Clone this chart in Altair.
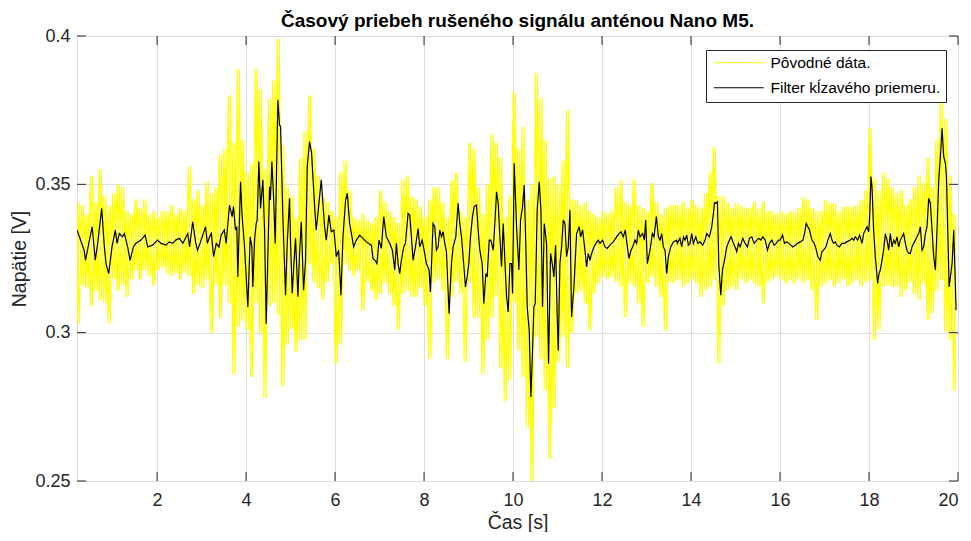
import altair as alt
import pandas as pd

TITLE = "Časový priebeh rušeného signálu anténou Nano M5."
SERIES = ["Pôvodné dáta.", "Filter kĺzavého priemeru."]
COLORS = ["#ffff00", "#000000"]
X_TICKS = [2, 4, 6, 8, 10, 12, 14, 16, 18, 20]
Y_TICKS = [0.25, 0.3, 0.35, 0.4]

# raw signal: per 0.1 s bin, the upper and lower extreme
RAW_T0 = 0.2
RAW_DT = 0.1
hi_a = [0.344, 0.343, 0.340, 0.353, 0.344, 0.355, 0.346, 0.343, 0.347, 0.350, 0.349, 0.341, 0.340, 0.345, 0.342, 0.345, 0.340,
        0.341, 0.339, 0.341, 0.341, 0.343, 0.340, 0.342, 0.341, 0.356, 0.345, 0.348, 0.343, 0.351, 0.347, 0.349, 0.360, 0.362]
lo_a = [0.303, 0.316, 0.315, 0.309, 0.314, 0.311, 0.310, 0.303, 0.318, 0.314, 0.316, 0.312, 0.318, 0.321, 0.318, 0.321, 0.319,
        0.316, 0.321, 0.322, 0.320, 0.319, 0.320, 0.318, 0.320, 0.319, 0.313, 0.316, 0.315, 0.318, 0.300, 0.316, 0.305, 0.316]
hi_b = [0.380, 0.364, 0.389, 0.365, 0.354, 0.357, 0.389, 0.382, 0.355, 0.379, 0.385, 0.399, 0.363, 0.349, 0.346, 0.339, 0.359,
        0.368, 0.380, 0.362, 0.353, 0.346, 0.344, 0.341, 0.339, 0.354, 0.358, 0.348, 0.339, 0.338, 0.340, 0.338, 0.337, 0.339]
lo_b = [0.310, 0.286, 0.302, 0.304, 0.301, 0.285, 0.310, 0.300, 0.278, 0.309, 0.310, 0.306, 0.282, 0.296, 0.301, 0.2935, 0.2975,
        0.2975, 0.323, 0.317, 0.315, 0.311, 0.317, 0.323, 0.2895, 0.296, 0.323, 0.321, 0.319, 0.321, 0.3075, 0.317, 0.314, 0.311]
hi_c = [0.348, 0.344, 0.341, 0.339, 0.337, 0.3515, 0.353, 0.346, 0.345, 0.3425, 0.339, 0.345, 0.349, 0.349, 0.344, 0.339, 0.3515,
        0.354, 0.341, 0.339, 0.364, 0.362, 0.349, 0.340, 0.350, 0.367, 0.364, 0.359, 0.339, 0.346, 0.381, 0.362, 0.3695]
lo_c = [0.313, 0.3166, 0.313, 0.309, 0.301, 0.313, 0.314, 0.312, 0.312, 0.315, 0.309, 0.291, 0.317, 0.318, 0.314, 0.291, 0.312,
        0.317, 0.313, 0.290, 0.317, 0.305, 0.305, 0.286, 0.2975, 0.305, 0.312, 0.288, 0.277, 0.284, 0.310, 0.294, 0.285]
hi_d = [0.345, 0.350, 0.3875, 0.379, 0.365, 0.352, 0.3526, 0.350, 0.358, 0.375, 0.345, 0.3447, 0.343, 0.344, 0.341, 0.340, 0.339,
        0.341, 0.340, 0.341, 0.349, 0.3515, 0.344, 0.343, 0.3515, 0.343, 0.342, 0.341, 0.3505, 0.344, 0.340, 0.342, 0.343, 0.343]
lo_d = [0.268, 0.250, 0.2985, 0.291, 0.2805, 0.2575, 0.2745, 0.290, 0.2985, 0.288, 0.300, 0.313, 0.314, 0.3098, 0.3007, 0.313,
        0.3166, 0.3188, 0.318, 0.3188, 0.317, 0.3154, 0.3053, 0.3166, 0.3155, 0.3098, 0.302, 0.3166, 0.3188, 0.3154, 0.312, 0.3007,
        0.317, 0.3166]
hi_e = [0.343, 0.344, 0.342, 0.3447, 0.343, 0.342, 0.347, 0.354, 0.3625, 0.346, 0.346, 0.344, 0.342, 0.3436, 0.343, 0.342, 0.342,
        0.344, 0.342, 0.344, 0.341, 0.341, 0.340, 0.341, 0.340, 0.341, 0.3405, 0.342, 0.3458, 0.3447, 0.342, 0.341, 0.341, 0.3447]
lo_e = [0.3177, 0.3155, 0.3166, 0.318, 0.3166, 0.312, 0.3143, 0.3155, 0.3177, 0.2895, 0.309, 0.3143, 0.3155, 0.3143, 0.318, 0.3166,
        0.3177, 0.3166, 0.3155, 0.3098, 0.317, 0.318, 0.3188, 0.3177, 0.3166, 0.3177, 0.3166, 0.318, 0.3166, 0.3177, 0.3143, 0.3042,
        0.3155, 0.3166]
hi_f = [0.3436, 0.3436, 0.341, 0.3425, 0.3425, 0.3425, 0.343, 0.3447, 0.348, 0.369, 0.352, 0.348, 0.354, 0.352, 0.349, 0.347,
        0.348, 0.343, 0.345, 0.349, 0.353, 0.3505, 0.359, 0.349, 0.365, 0.380, 0.372, 0.353, 0.340]
lo_f = [0.3177, 0.3155, 0.3166, 0.318, 0.3155, 0.3166, 0.3177, 0.3155, 0.317, 0.3177, 0.2975, 0.301, 0.3155, 0.316, 0.3154, 0.3155,
        0.312, 0.3143, 0.317, 0.313, 0.311, 0.3166, 0.3042, 0.3065, 0.314, 0.3177, 0.3003, 0.2975, 0.2805]

# moving-average filter line
filt_t = [0.20, 0.36, 0.39, 0.54, 0.61, 0.665, 0.755, 0.815, 0.852, 0.912, 0.987, 1.062, 1.10, 1.152, 1.22, 1.264, 1.339, 1.392,
          1.467, 1.52, 1.64, 1.73, 1.79, 1.90, 2.01, 2.09, 2.20, 2.27, 2.35, 2.42, 2.50, 2.58, 2.69, 2.73, 2.80, 2.87, 2.91, 2.99,
          3.09, 3.13, 3.18, 3.22, 3.27, 3.33, 3.39, 3.44, 3.51,
          3.552, 3.627, 3.687, 3.717, 3.762, 3.792, 3.815, 3.875, 3.912, 3.965, 4.04, 4.092, 4.13, 4.152, 4.19, 4.227, 4.25,
          4.287, 4.325, 4.377, 4.415, 4.452, 4.527, 4.545, 4.58, 4.617, 4.655, 4.715, 4.752, 4.775, 4.827, 4.887, 4.925, 4.977,
          5.0, 5.037, 5.075, 5.112, 5.165, 5.202, 5.24, 5.292, 5.337, 5.375, 5.427, 5.472, 5.502, 5.555, 5.577, 5.615, 5.637,
          5.69, 5.727, 5.765, 5.802, 5.862, 5.915, 5.975, 6.027, 6.08, 6.132, 6.177, 6.237, 6.275, 6.327, 6.38, 6.417, 6.477,
          6.552, 6.627, 6.702, 6.815, 6.853, 6.897, 6.942, 6.987,
          7.04, 7.093, 7.153, 7.228, 7.288, 7.341, 7.378, 7.416, 7.453, 7.49, 7.543, 7.581, 7.641, 7.678, 7.716, 7.753, 7.806,
          7.866, 7.903, 7.956, 8.001, 8.053, 8.113, 8.143, 8.203, 8.241, 8.278, 8.316, 8.353, 8.391, 8.428, 8.466, 8.503, 8.563,
          8.616, 8.653, 8.713, 8.766, 8.803, 8.841, 8.878, 8.931, 8.968, 9.006, 9.043, 9.088, 9.126, 9.178, 9.216, 9.253, 9.306,
          9.343, 9.389, 9.419, 9.464, 9.501, 9.554, 9.591, 9.629, 9.666, 9.704, 9.741, 9.779, 9.816, 9.854, 9.891, 9.929, 9.966,
          9.989, 10.026, 10.079, 10.131, 10.169, 10.214, 10.251,
          10.288, 10.318, 10.363, 10.401, 10.438, 10.468, 10.498, 10.543, 10.588, 10.626, 10.663, 10.701, 10.753, 10.798, 10.843,
          10.881, 10.918, 10.956, 10.993, 11.016, 11.053, 11.091, 11.128, 11.166, 11.203, 11.241, 11.278, 11.316, 11.368, 11.428,
          11.488, 11.518, 11.563, 11.616, 11.653, 11.691, 11.728, 11.766, 11.818, 11.863, 11.916, 11.953, 12.013, 12.066, 12.118,
          12.178, 12.253, 12.328, 12.381, 12.426, 12.478, 12.523, 12.568, 12.606, 12.651, 12.688, 12.741, 12.778, 12.816, 12.853,
          12.913, 12.951, 12.981, 13.018, 13.048, 13.078, 13.131, 13.168, 13.221, 13.266, 13.303, 13.341, 13.378, 13.416, 13.453,
          13.491, 13.543, 13.603, 13.678,
          13.693, 13.75, 13.79, 13.83, 13.866, 13.903, 13.94, 13.978, 14.016, 14.053, 14.106, 14.151, 14.203, 14.263, 14.316,
          14.353, 14.413, 14.466, 14.503, 14.526, 14.556, 14.593, 14.623, 14.668, 14.706, 14.751, 14.803, 14.863, 14.901, 14.953,
          14.991, 15.028, 15.066, 15.103, 15.163, 15.216, 15.268, 15.313, 15.366, 15.418, 15.478, 15.523, 15.568, 15.613, 15.666,
          15.718, 15.763, 15.816, 15.868, 15.913, 15.966, 16.003, 16.056, 16.101, 16.153, 16.198, 16.243, 16.288, 16.341, 16.394,
          16.454, 16.514, 16.551, 16.589, 16.626, 16.663, 16.716, 16.769, 16.806, 16.851, 16.904, 16.941, 16.979, 17.031, 17.076,
          17.129, 17.167, 17.204, 17.242, 17.279, 17.332, 17.392, 17.446, 17.504, 17.579, 17.617, 17.654, 17.692, 17.744, 17.789,
          17.842, 17.879, 17.917, 17.954, 17.992, 18.014, 18.044, 18.067, 18.104, 18.142, 18.194, 18.224, 18.254, 18.292, 18.329,
          18.367, 18.404, 18.442, 18.479, 18.517, 18.554, 18.592, 18.629, 18.667, 18.704, 18.742, 18.779, 18.817, 18.854, 18.892,
          18.929, 18.967, 19.004, 19.042, 19.079, 19.117, 19.154, 19.192, 19.229, 19.267, 19.304, 19.342, 19.379, 19.417, 19.454,
          19.492, 19.529, 19.567, 19.604, 19.642, 19.679, 19.717, 19.74, 19.77, 19.80, 19.83, 19.867, 19.904, 19.927, 19.957]
filt_v = [0.3346, 0.3278, 0.3244, 0.3357, 0.3244, 0.3301, 0.3419, 0.3289, 0.3233, 0.3199, 0.3289, 0.3346, 0.3301, 0.3334, 0.3323,
          0.3334, 0.3289, 0.3244, 0.3289, 0.3301, 0.3312, 0.3329, 0.3289, 0.3295, 0.3312, 0.3301, 0.3295, 0.3306, 0.3301, 0.3312,
          0.3318, 0.3301, 0.3334, 0.3289, 0.3374, 0.3301, 0.3278, 0.3312, 0.3357, 0.3301, 0.3323, 0.3334, 0.3256, 0.3301, 0.3289,
          0.3329, 0.3346,
          0.3301, 0.3430, 0.3391, 0.3425, 0.3346, 0.3357, 0.3188, 0.3509, 0.3391, 0.3289, 0.3087, 0.3323, 0.3289, 0.3154, 0.3312,
          0.3368, 0.3380, 0.3577, 0.3419, 0.3515, 0.3346, 0.3030, 0.3492, 0.3447, 0.3577, 0.3458, 0.3301, 0.3785, 0.3700, 0.3695,
          0.3391, 0.3126, 0.3301, 0.3453, 0.3301, 0.3132, 0.3233, 0.3318, 0.3121, 0.3267, 0.3374, 0.3143, 0.3244, 0.3560, 0.3644,
          0.3605, 0.3526, 0.3391, 0.3346, 0.3402, 0.3436, 0.3515, 0.3436, 0.3357, 0.3312, 0.3396, 0.3340, 0.3346, 0.3256, 0.3278,
          0.3126, 0.3323, 0.3447, 0.3470, 0.3368, 0.3323, 0.3289, 0.3312, 0.3329, 0.3318, 0.3306, 0.3295, 0.3250, 0.3244, 0.3233,
          0.3312,
          0.3284, 0.3391, 0.3323, 0.3301, 0.3278, 0.3211, 0.3301, 0.3233, 0.3199, 0.3244, 0.3289, 0.3301, 0.3402, 0.3396, 0.3323,
          0.3244, 0.3289, 0.3351, 0.3289, 0.3312, 0.3278, 0.3233, 0.3211, 0.3137, 0.3368, 0.3357, 0.3278, 0.3289, 0.3346, 0.3323,
          0.3340, 0.3301, 0.3273, 0.3064, 0.3233, 0.3289, 0.3323, 0.3436, 0.3368, 0.3323, 0.3256, 0.3154, 0.3188, 0.3233, 0.3323,
          0.3391, 0.3425, 0.3430, 0.3346, 0.3278, 0.3233, 0.3098, 0.3199, 0.3188, 0.3312, 0.3312, 0.3278, 0.3368, 0.3475, 0.3436,
          0.3323, 0.3222, 0.3368, 0.3244, 0.3121, 0.3070, 0.3233, 0.3233, 0.3132, 0.3571, 0.3357, 0.3211, 0.3380, 0.3425, 0.3498,
          0.3289, 0.3087, 0.3008, 0.2783, 0.2940, 0.3087, 0.3098, 0.3413, 0.3509, 0.3413, 0.3087, 0.3368, 0.3301, 0.2895, 0.3267,
          0.3233, 0.3188, 0.3295, 0.3053, 0.2940, 0.3233, 0.3289, 0.3380, 0.3368, 0.3256, 0.3289, 0.3413, 0.3053, 0.3154, 0.3334,
          0.3357, 0.3323, 0.3346, 0.3278, 0.3222, 0.3267, 0.3244, 0.3267, 0.3289, 0.3301, 0.3312, 0.3301, 0.3312, 0.3289, 0.3284,
          0.3295, 0.3306, 0.3323, 0.3334, 0.3340, 0.3323, 0.3346, 0.3289, 0.3250, 0.3278, 0.3289, 0.3312, 0.3301, 0.3346, 0.3323,
          0.3334, 0.3312, 0.3380, 0.3233, 0.3256, 0.3278, 0.3334, 0.3323, 0.3391, 0.3323, 0.3312, 0.3334, 0.3289, 0.3278, 0.3199,
          0.3256, 0.3289, 0.3306, 0.3312,
          0.3301, 0.3318, 0.3289, 0.3323, 0.3312, 0.3329, 0.3295, 0.3301, 0.3334, 0.3301, 0.3323, 0.3301, 0.3306, 0.3295, 0.3312,
          0.3334, 0.3323, 0.3357, 0.3402, 0.3438, 0.3436, 0.3441, 0.3233, 0.3126, 0.3211, 0.3244, 0.3289, 0.3312, 0.3323, 0.3301,
          0.3289, 0.3273, 0.3301, 0.3289, 0.3318, 0.3301, 0.3289, 0.3318, 0.3323, 0.3301, 0.3312, 0.3318, 0.3312, 0.3323, 0.3312,
          0.3278, 0.3301, 0.3312, 0.3295, 0.3301, 0.3312, 0.3312, 0.3329, 0.3301, 0.3306, 0.3301, 0.3295, 0.3289, 0.3295, 0.3301,
          0.3306, 0.3312, 0.3334, 0.3368, 0.3357, 0.3346, 0.3312, 0.3301, 0.3284, 0.3256, 0.3244, 0.3273, 0.3278, 0.3289, 0.3312,
          0.3334, 0.3312, 0.3301, 0.3306, 0.3295, 0.3289, 0.3301, 0.3301, 0.3306, 0.3312, 0.3318, 0.3312, 0.3323, 0.3312, 0.3329,
          0.3301, 0.3334, 0.3346, 0.3357, 0.3340, 0.3391, 0.3526, 0.3492, 0.3346, 0.3256, 0.3166, 0.3199, 0.3211, 0.3244, 0.3278,
          0.3334, 0.3312, 0.3278, 0.3334, 0.3289, 0.3312, 0.3301, 0.3323, 0.3289, 0.3312, 0.3323, 0.3334, 0.3301, 0.3278, 0.3267,
          0.3267, 0.3289, 0.3301, 0.3312, 0.3323, 0.3334, 0.3357, 0.3278, 0.3289, 0.3334, 0.3357, 0.3453, 0.3436, 0.3346, 0.3256,
          0.3211, 0.3346, 0.3515, 0.3593, 0.3689, 0.3593, 0.3571, 0.3526, 0.3346, 0.3154, 0.3188, 0.3233, 0.3346, 0.3233, 0.3076]

# ---- build tables ----
raw_hi = hi_a + hi_b + hi_c + hi_d + hi_e + hi_f
raw_lo = lo_a + lo_b + lo_c + lo_d + lo_e + lo_f
n = min(len(raw_hi), len(raw_lo))
raw_rows = []
for i in range(n):
    t = RAW_T0 + RAW_DT * i
    # two interleaved passes through each bin's extremes so the band reads as dense noise
    raw_rows.append({"t": round(t, 4), "v": raw_hi[i], "o": 2 * i, "p": 0, "series": SERIES[0]})
    raw_rows.append({"t": round(t + RAW_DT / 2, 4), "v": raw_lo[i], "o": 2 * i + 1, "p": 0, "series": SERIES[0]})
    raw_rows.append({"t": round(t, 4), "v": raw_lo[i], "o": 2 * i, "p": 1, "series": SERIES[0]})
    raw_rows.append({"t": round(t + RAW_DT / 2, 4), "v": raw_hi[i], "o": 2 * i + 1, "p": 1, "series": SERIES[0]})
raw_df = pd.DataFrame(raw_rows)

m = min(len(filt_t), len(filt_v))
filt_df = pd.DataFrame({"t": filt_t[:m], "v": filt_v[:m], "o": list(range(m)), "series": [SERIES[1]] * m})

W, H = 881, 445
TXT = "#262626"
FONT = "Liberation Sans"
LINE_PATH = "M-5,0H5"

xscale = alt.Scale(domain=[0.2, 20], nice=False, zero=False)
yscale = alt.Scale(domain=[0.25, 0.4], nice=False, zero=False)
color = alt.Color(
    "series:N",
    scale=alt.Scale(domain=SERIES, range=COLORS),
    legend=alt.Legend(
        title=None, orient="none", legendX=629, legendY=14, direction="vertical",
        symbolType=LINE_PATH, symbolSize=100, symbolStrokeWidth=1.2, symbolOffset=20,
        labelFontSize=15.5, labelFont=FONT, labelColor="#000000", labelOffset=24, labelLimit=400,
        rowPadding=8, padding=5, strokeColor=TXT, fillColor="#ffffff", cornerRadius=0,
    ),
)

x_axis = alt.Axis(values=X_TICKS, title="Čas [s]", ticks=False, domain=False, grid=True,
                  gridColor="#dedede", labelFontSize=18, labelColor=TXT, labelFont=FONT,
                  labelPadding=10, titleFontSize=19.5, titleFontWeight="normal", titleColor=TXT,
                  titleFont=FONT, titlePadding=4)
y_axis = alt.Axis(values=Y_TICKS, title="Napätie [V]", ticks=False, domain=False, grid=True,
                  gridColor="#dedede", labelFontSize=18, labelColor=TXT, labelFont=FONT,
                  labelPadding=7, format=".2~f", titleFontSize=19.5, titleFontWeight="normal",
                  titleColor=TXT, titleFont=FONT, titlePadding=5)

X = alt.X("t:Q", scale=xscale, axis=x_axis)
Y = alt.Y("v:Q", scale=yscale, axis=y_axis)

raw_layer = alt.Chart(raw_df).mark_line(strokeWidth=1.1, clip=True).encode(
    x=X, y=Y, order="o:Q", detail="p:N", color=color,
)
filt_layer = alt.Chart(filt_df).mark_line(strokeWidth=1.2, clip=True).encode(
    x=X, y=Y, order="o:Q", color=color,
)

xt = pd.DataFrame({"t": X_TICKS})
yt = pd.DataFrame({"v": Y_TICKS})
TL = 9
tick_b = alt.Chart(xt).mark_rule(color=TXT, strokeWidth=1).encode(x=X, y=alt.value(H), y2=alt.value(H - TL))
tick_t = alt.Chart(xt).mark_rule(color=TXT, strokeWidth=1).encode(x=X, y=alt.value(0), y2=alt.value(TL))
tick_l = alt.Chart(yt).mark_rule(color=TXT, strokeWidth=1).encode(y=Y, x=alt.value(0), x2=alt.value(TL))
tick_r = alt.Chart(yt).mark_rule(color=TXT, strokeWidth=1).encode(y=Y, x=alt.value(W - TL), x2=alt.value(W))

chart = alt.layer(raw_layer, filt_layer, tick_b, tick_t, tick_l, tick_r).properties(
    width=W, height=H,
    title=alt.TitleParams(TITLE, fontSize=19, fontWeight="bold", font=FONT, color="#000000",
                          anchor="middle", offset=-4),
    autosize=alt.AutoSizeParams(type="none"),
    padding={"left": 69, "top": 28, "right": 5, "bottom": 51},
).configure_view(stroke=TXT, strokeWidth=1).configure(background="#ffffff")

chart.save("out.html", embed_options={"renderer": "svg", "actions": False})
